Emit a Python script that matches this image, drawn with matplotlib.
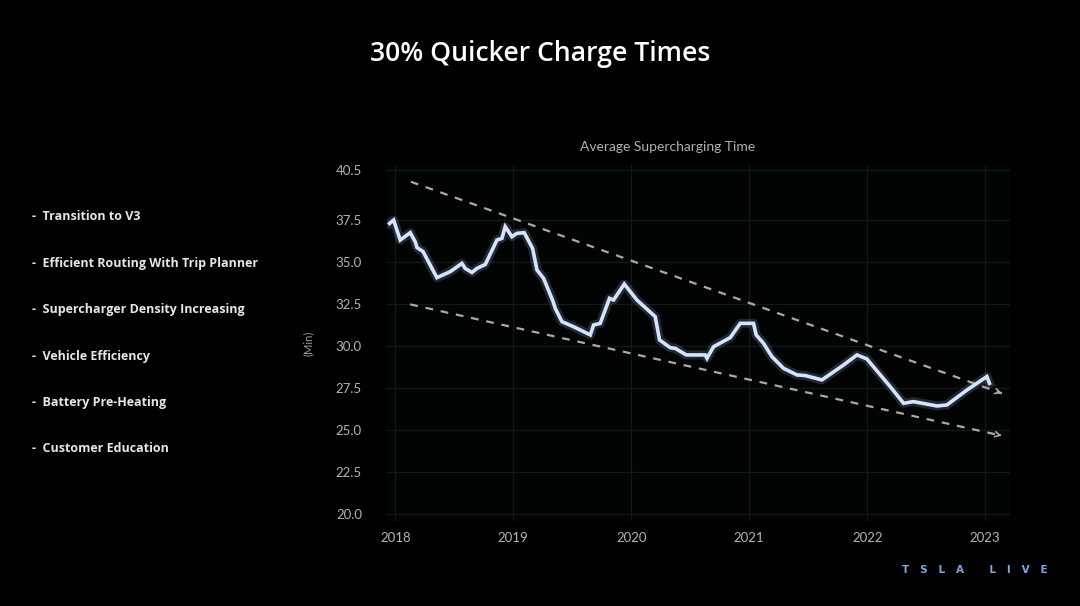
import matplotlib
matplotlib.use("Agg")
import matplotlib.pyplot as plt
import numpy as np

# ---------------- data ----------------
years = [2017.952, 2017.986, 2018.042, 2018.127, 2018.169, 2018.184, 2018.235, 2018.353,
         2018.466, 2018.565, 2018.593, 2018.650, 2018.692, 2018.763, 2018.862, 2018.904,
         2018.932, 2018.989, 2019.031, 2019.093, 2019.164, 2019.201, 2019.257, 2019.336,
         2019.356, 2019.413, 2019.511, 2019.653, 2019.681, 2019.737, 2019.816, 2019.850,
         2019.941, 2020.048, 2020.203, 2020.240, 2020.331, 2020.373, 2020.466, 2020.627,
         2020.642, 2020.698, 2020.839, 2020.924, 2021.036, 2021.059, 2021.121, 2021.192,
         2021.291, 2021.404, 2021.475, 2021.616, 2021.799, 2021.913, 2021.997, 2022.195,
         2022.308, 2022.392, 2022.591, 2022.675, 2022.845, 2023.014, 2023.036]
minutes = [37.32, 37.52, 36.33, 36.77, 36.23, 35.88, 35.65, 34.09,
           34.45, 34.94, 34.64, 34.40, 34.64, 34.88, 36.33, 36.43,
           37.13, 36.53, 36.73, 36.77, 35.83, 34.55, 34.05, 32.70,
           32.26, 31.47, 31.17, 30.68, 31.27, 31.37, 32.86, 32.76,
           33.71, 32.76, 31.77, 30.38, 29.92, 29.88, 29.49, 29.49,
           29.29, 29.98, 30.52, 31.37, 31.37, 30.68, 30.18, 29.39,
           28.69, 28.30, 28.26, 28.00, 28.89, 29.49, 29.25, 27.60,
           26.61, 26.71, 26.45, 26.51, 27.40, 28.20, 27.80]

upper_trend_x = [2018.133, 2023.141]
upper_trend_y = [39.80, 27.20]
lower_trend_x = [2018.127, 2023.141]
lower_trend_y = [32.50, 24.68]

x_ticks = [2018, 2019, 2020, 2021, 2022, 2023]
x_tick_labels = ["2018", "2019", "2020", "2021", "2022", "2023"]
y_ticks = [20.0, 22.5, 25.0, 27.5, 30.0, 32.5, 35.0, 37.5, 40.5]
y_tick_labels = ["20.0", "22.5", "25.0", "27.5", "30.0", "32.5", "35.0", "37.5", "40.5"]

title = "30% Quicker Charge Times"
subtitle = "Average Supercharging Time"
y_label = "(Min)"
bullets = ["Transition to V3", "Efficient Routing With Trip Planner",
           "Supercharger Density Increasing", "Vehicle Efficiency",
           "Battery Pre-Heating", "Customer Education"]
brand = "T   S   L   A       L   I   V   E"

# ---------------- figure ----------------
W, H = 1080, 606
fig = plt.figure(figsize=(W / 100, H / 100), dpi=100, facecolor="black")

ax = fig.add_axes([387 / W, 1 - 521 / H, (1010 - 387) / W, (521 - 165) / H])
ax.set_facecolor("#020404")
ax.set_xlim(2017.93, 2023.21)
ax.set_ylim(19.6, 40.8)

grid_c = "#101a17"
ax.set_xticks(x_ticks)
ax.set_xticklabels(x_tick_labels)
ax.set_yticks(y_ticks)
ax.set_yticklabels(y_tick_labels)
ax.grid(True, color=grid_c, linewidth=0.9)
ax.tick_params(length=0, colors="#b3b3b3", labelsize=9.5)
ax.tick_params(axis="y", pad=18)
ax.tick_params(axis="x", pad=8)
for lab in ax.get_xticklabels() + ax.get_yticklabels():
    lab.set_fontfamily("Lato")
for s in ["top", "right", "bottom", "left"]:
    ax.spines[s].set_visible(False)

# trend lines
dash_c = "#a9a9a9"
for tx, ty in [(upper_trend_x, upper_trend_y), (lower_trend_x, lower_trend_y)]:
    ax.plot(tx, ty, color=dash_c, linewidth=1.6, linestyle=(0, (3.5, 3.5)), zorder=2)
    dx = tx[1] - tx[0]
    dy = ty[1] - ty[0]
    ax.annotate("", xy=(tx[1], ty[1]), xytext=(tx[1] - dx * 0.004, ty[1] - dy * 0.004),
                arrowprops=dict(arrowstyle="->", color=dash_c, lw=1.2,
                                mutation_scale=9), zorder=2)

# data line with glow
ax.plot(years, minutes, color="#9fb8e8", linewidth=6.5, alpha=0.2,
        solid_joinstyle="round", zorder=3)
ax.plot(years, minutes, color="#d6e4fb", linewidth=2.6,
        solid_joinstyle="miter", zorder=4)

ax.set_ylabel(y_label, color="#9a9a9a", fontsize=8, fontfamily="Lato", labelpad=16)

# texts
fig.text(540 / W, 1 - 54 / H, title, color="white", fontsize=19.2,
         fontfamily="Open Sans", fontweight="semibold", ha="center", va="center")
fig.text(668 / W, 1 - 147 / H, subtitle, color="#b0b0b0", fontsize=10,
         fontfamily="Lato", ha="center", va="center")

y0 = 217
for i, b in enumerate(bullets):
    fig.text(32 / W, 1 - (y0 + i * 46.4) / H, "-  " + b, color="#e6e6e6",
             fontsize=9, fontfamily="Open Sans", fontweight="bold",
             ha="left", va="center")

fig.text(975 / W, 1 - 570 / H, brand, color="#7fa6e0", fontsize=7.5,
         fontfamily="DejaVu Sans", fontweight="bold", ha="center", va="center")

fig.savefig("out.png", dpi=100, facecolor="black")
